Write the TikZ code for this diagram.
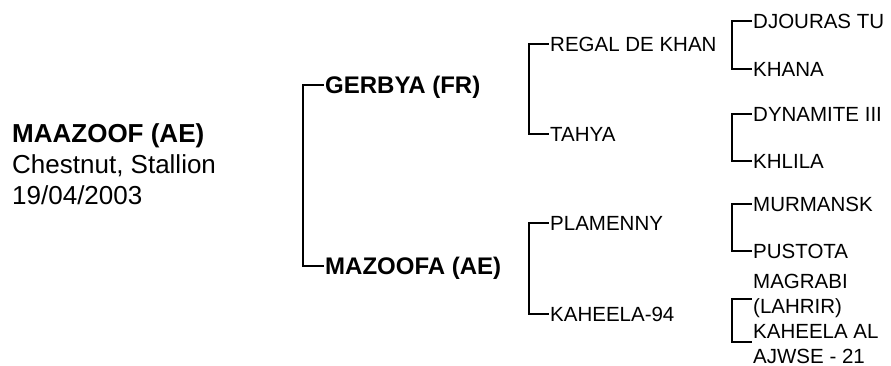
\documentclass[tikz,border=0pt]{standalone}
\usepackage{fontspec}
\setmainfont{Liberation Sans}
\begin{document}
\begin{tikzpicture}[x=1pt,y=-1pt,
  link/.style={line width=2.2pt,line join=miter,line cap=rect},
  rootname/.style={font=\bfseries\fontsize{26}{31}\selectfont,anchor=base west,inner sep=0pt},
  rootinfo/.style={font=\fontsize{26}{31}\selectfont,anchor=base west,inner sep=0pt},
  genone/.style={font=\bfseries\fontsize{24}{28}\selectfont,anchor=west,inner sep=2pt,text height=17.2pt,text depth=0pt},
  gentwo/.style={font=\fontsize{20.5}{25}\selectfont,anchor=west,inner sep=2pt,text height=14.7pt,text depth=0pt},
  multi/.style={font=\fontsize{20.5}{25}\selectfont,anchor=west,inner sep=2pt,align=left}
]
\useasboundingbox (0,0) rectangle (891,366);
% subject
\node[rootname] (subj) at (12,142.3) {MAAZOOF (AE)};
\node[rootinfo] (colour) at (12,173.3) {Chestnut, Stallion};
\node[rootinfo] (born) at (12,204.3) {19/04/2003};
% parents
\node[genone] (sire) at (323,85) {GERBYA (FR)};
\node[genone] (dam) at (323,266) {MAZOOFA (AE)};
\draw[link] (sire.west) -- ++(-20,0) |- (dam.west);
% grandparents
\node[gentwo] (ss) at (548,44) {REGAL DE KHAN};
\node[gentwo] (sd) at (548,134) {TAHYA};
\node[gentwo] (ds) at (548,223) {PLAMENNY};
\node[gentwo] (dd) at (548,314) {KAHEELA-94};
\draw[link] (ss.west) -- ++(-19,0) |- (sd.west);
\draw[link] (ds.west) -- ++(-19,0) |- (dd.west);
% great-grandparents
\node[gentwo] (sss) at (751,21) {DJOURAS TU};
\node[gentwo] (ssd) at (751,69) {KHANA};
\node[gentwo] (sds) at (751,114) {DYNAMITE III};
\node[gentwo] (sdd) at (751,161) {KHLILA};
\node[gentwo] (dss) at (751,204) {MURMANSK};
\node[gentwo] (dsd) at (751,251) {PUSTOTA};
\node[multi] (dds) at (751,295.5) {MAGRABI\\(LAHRIR)};
\node[multi] (ddd) at (751,344) {KAHEELA AL\\AJWSE - 21};
\coordinate (ddsc) at (751,299);
\coordinate (dddc) at (751,342);
\draw[link] (sss.west) -- ++(-19,0) |- (ssd.west);
\draw[link] (sds.west) -- ++(-19,0) |- (sdd.west);
\draw[link] (dss.west) -- ++(-19,0) |- (dsd.west);
\draw[link] (ddsc) -- ++(-19,0) |- (dddc);
\end{tikzpicture}
\end{document}
